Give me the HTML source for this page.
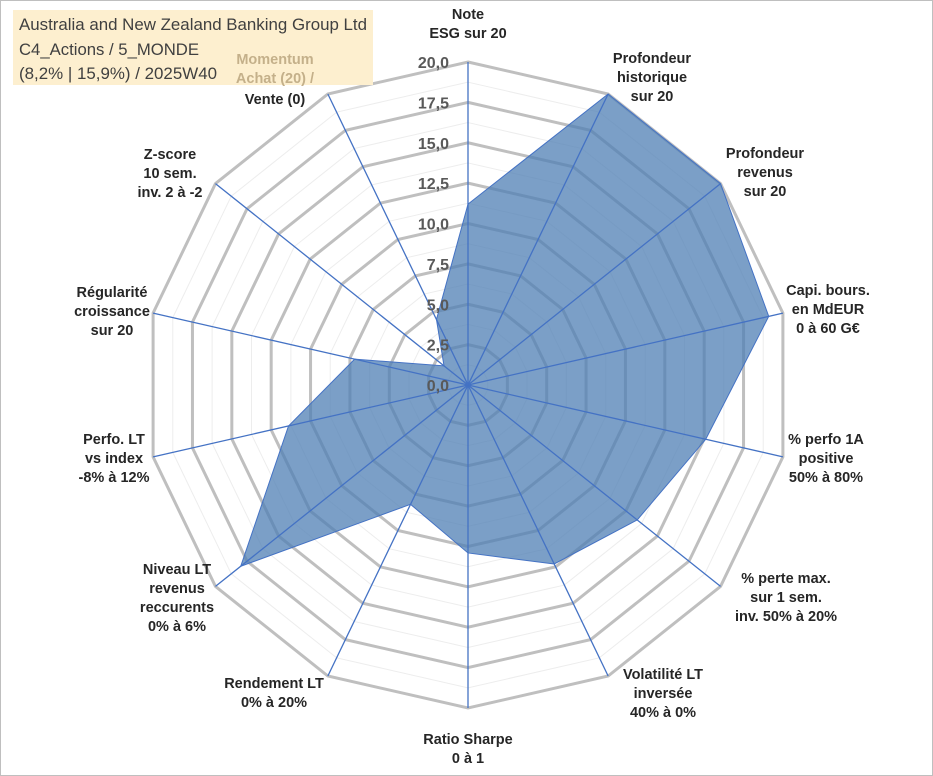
<!DOCTYPE html>
<html><head><meta charset="utf-8"><style>
body{margin:0;background:#fff;}
svg{display:block;font-family:"Liberation Sans",Arial,sans-serif;}
.lbl{font-size:14.5px;font-weight:bold;fill:#262626;text-anchor:middle;}
.tick{font-size:16px;font-weight:bold;fill:#595959;text-anchor:end;}
</style></head><body>
<svg id="chart" width="933" height="776">
<rect x="0.5" y="0.5" width="932" height="775" fill="#fff" stroke="#bfbfbf"/>
<g id="grid"></g>
<g id="area"></g>
<g id="axes"></g>
<g id="ticks"></g>
<rect x="13" y="10" width="360" height="75" fill="#fdefcf"/>
<text x="19" y="30" font-size="17" fill="#404040" textLength="348" lengthAdjust="spacingAndGlyphs">Australia and New Zealand Banking Group Ltd</text>
<text x="19" y="55" font-size="17" fill="#404040" textLength="180" lengthAdjust="spacingAndGlyphs">C4_Actions / 5_MONDE</text>
<text x="19" y="79" font-size="17" fill="#404040" textLength="198" lengthAdjust="spacingAndGlyphs">(8,2% | 15,9%) / 2025W40</text>
<g id="labels" class="lbl">
<text x="468" y="19"><tspan x="468">Note</tspan><tspan x="468" dy="19">ESG sur 20</tspan></text>
<text x="652" y="63"><tspan x="652">Profondeur</tspan><tspan x="652" dy="19">historique</tspan><tspan x="652" dy="19">sur 20</tspan></text>
<text x="765" y="158"><tspan x="765">Profondeur</tspan><tspan x="765" dy="19">revenus</tspan><tspan x="765" dy="19">sur 20</tspan></text>
<text x="828" y="295"><tspan x="828">Capi. bours.</tspan><tspan x="828" dy="19">en MdEUR</tspan><tspan x="828" dy="19">0 à 60 G€</tspan></text>
<text x="826" y="444"><tspan x="826">% perfo 1A</tspan><tspan x="826" dy="19">positive</tspan><tspan x="826" dy="19">50% à 80%</tspan></text>
<text x="786" y="583"><tspan x="786">% perte max.</tspan><tspan x="786" dy="19">sur 1 sem.</tspan><tspan x="786" dy="19">inv. 50% à 20%</tspan></text>
<text x="663" y="679"><tspan x="663">Volatilité LT</tspan><tspan x="663" dy="19">inversée</tspan><tspan x="663" dy="19">40% à 0%</tspan></text>
<text x="468" y="744"><tspan x="468">Ratio Sharpe</tspan><tspan x="468" dy="19">0 à 1</tspan></text>
<text x="274" y="688"><tspan x="274">Rendement LT</tspan><tspan x="274" dy="19">0% à 20%</tspan></text>
<text x="177" y="574"><tspan x="177">Niveau LT</tspan><tspan x="177" dy="19">revenus</tspan><tspan x="177" dy="19">reccurents</tspan><tspan x="177" dy="19">0% à 6%</tspan></text>
<text x="114" y="444"><tspan x="114">Perfo. LT</tspan><tspan x="114" dy="19">vs index</tspan><tspan x="114" dy="19">-8% à 12%</tspan></text>
<text x="112" y="297"><tspan x="112">Régularité</tspan><tspan x="112" dy="19">croissance</tspan><tspan x="112" dy="19">sur 20</tspan></text>
<text x="170" y="159"><tspan x="170">Z-score</tspan><tspan x="170" dy="19">10 sem.</tspan><tspan x="170" dy="19">inv. 2 à -2</tspan></text>
<text x="275" y="64"><tspan x="275" fill="#c4b08a">Momentum</tspan><tspan x="275" dy="19" fill="#c4b08a">Achat (20) /</tspan><tspan x="275" dy="21">Vente (0)</tspan></text>
</g>
</svg>
<script>
const categories = ["ESG","Profondeur historique","Profondeur revenus","Capi","Perfo 1A","Perte max","Volatilite","Sharpe","Rendement LT","Niveau LT","Perfo LT","Regularite","Z-score","Momentum"];
const values = [11.2, 20, 20, 19.1, 15.1, 13.4, 12.3, 10.4, 8.2, 18, 11.4, 7.2, 1.9, 4.5];
const tickValues = [0, 2.5, 5, 7.5, 10, 12.5, 15, 17.5, 20];
const tickLabels = ["0,0","2,5","5,0","7,5","10,0","12,5","15,0","17,5","20,0"];
const maxVal = 20;
const NS = "http://www.w3.org/2000/svg";
const cx = 468, cy = 385, R = 323;
const n = categories.length;
function pt(i, v){ const a = -Math.PI/2 + i*2*Math.PI/n; const r = v/maxVal*R; return [cx + r*Math.cos(a), cy + r*Math.sin(a)]; }
function mk(tag, attrs, parent){ const e = document.createElementNS(NS, tag); for (const k in attrs) e.setAttribute(k, attrs[k]); parent.appendChild(e); return e; }
const grid = document.getElementById('grid');
for (let k = 1; k <= 16; k++) {
  const v = k*1.25;
  const pts = categories.map((c,i)=>pt(i,v).join(',')).join(' ');
  const major = k%2===0;
  const p = mk('polygon', {points: pts, fill: 'none', stroke: major ? '#bfbfbf' : '#ededed', 'stroke-width': major ? 3 : 1}, grid);
  
  
}
const area = document.getElementById('area');
const poly = mk('polygon', {points: values.map((v,i)=>pt(i,v).join(',')).join(' '), fill: '#4f7fb4', 'fill-opacity': 0.75, stroke: '#4472c4', 'stroke-width': 1}, area);


const axes = document.getElementById('axes');
categories.forEach((c,i)=>{
  const [x,y] = pt(i,maxVal);
  const l = mk('line', {x1: cx, y1: cy, x2: x, y2: y, stroke: '#4472c4', 'stroke-width': 1.3}, axes);
  
  
});
const ticks = document.getElementById('ticks');
tickValues.forEach((v,i)=>{
  const t = mk('text', {x: cx-19, y: cy - v/maxVal*R + 6, class: 'tick'}, ticks);
  t.textContent = tickLabels[i];
  
  
});
</script>
</body></html>
